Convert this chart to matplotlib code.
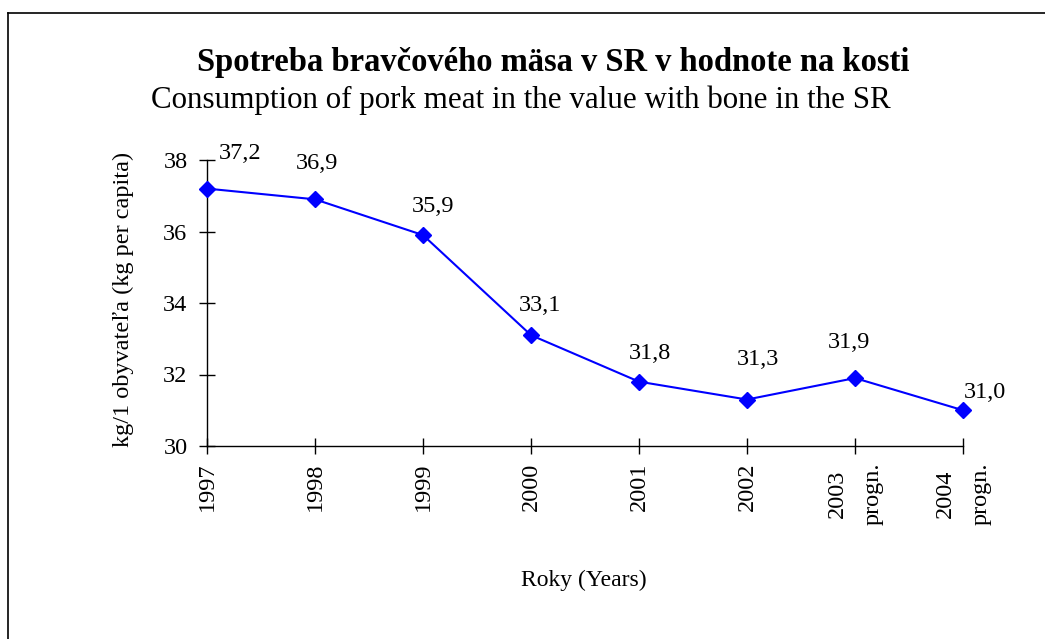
import matplotlib
matplotlib.use("Agg")
import matplotlib.pyplot as plt
from matplotlib.lines import Line2D

years = ["1997", "1998", "1999", "2000", "2001", "2002", "2003\nprogn.", "2004\nprogn."]
values = [37.2, 36.9, 35.9, 33.1, 31.8, 31.3, 31.9, 31.0]
value_labels = ["37,2", "36,9", "35,9", "33,1", "31,8", "31,3", "31,9", "31,0"]

# label placement offsets (pixels, right / up) as placed in the original
label_offsets = [(33, 35), (2, 36), (10, 29), (9, 30), (11, 28), (11, 40), (-6, 36), (22, 18)]

plt.rcParams['font.family'] = ['Liberation Serif', 'DejaVu Serif']

W, H = 1045, 639
fig = plt.figure(figsize=(W/100, H/100), dpi=100)
ax = fig.add_axes([207/W, 1-446/H, (963-207)/W, (446-160)/H])

x = list(range(len(values)))
ax.plot(x, values, color='#0000FF', lw=1.5, marker='D', ms=8.5, mec='#0000FF', mfc='#0000FF',
        clip_on=False, zorder=3)

ax.set_xlim(0, len(values)-1)
ax.set_ylim(30, 38)
ax.set_yticks([30, 32, 34, 36, 38])
ax.set_xticks(x)
ax.set_xticklabels(years, rotation=90, va='top', ha='center', multialignment='center', linespacing=1.95)
for s in ['top', 'right']:
    ax.spines[s].set_visible(False)
for s in ['left', 'bottom']:
    ax.spines[s].set_linewidth(1.0)
ax.tick_params(axis='both', direction='inout', length=12, width=1.0, labelsize=17.5)
ax.tick_params(axis='y', pad=8)
ax.tick_params(axis='x', pad=6)

for i, (v, lab) in enumerate(zip(values, value_labels)):
    dx, dy = label_offsets[i]
    ax.annotate(lab, (i, v), xytext=(dx, dy), textcoords='offset pixels',
                ha='center', va='center', fontsize=17.5)

fig.text(123/W, 1-299/H, "kg/1 obyvateľa (kg per capita)", rotation=90,
         ha='center', va='center', fontsize=17.5)
fig.text(584/W, 1-580/H, "Roky (Years)", ha='center', va='center', fontsize=17)

fig.text(553/W, 1-62/H, "Spotreba bravčového mäsa v SR v hodnote na kosti",
         ha='center', va='center', fontsize=23.5, fontweight='bold')
fig.text(521/W, 1-100/H, "Consumption of pork meat in the value with bone in the SR",
         ha='center', va='center', fontsize=22.3)

fig.add_artist(Line2D([8/W, 1], [1-13/H, 1-13/H], color='black', lw=1.2, transform=fig.transFigure))
fig.add_artist(Line2D([8/W, 8/W], [1-13/H, 0], color='black', lw=1.2, transform=fig.transFigure))

fig.savefig("out.png", dpi=100, facecolor='white')
